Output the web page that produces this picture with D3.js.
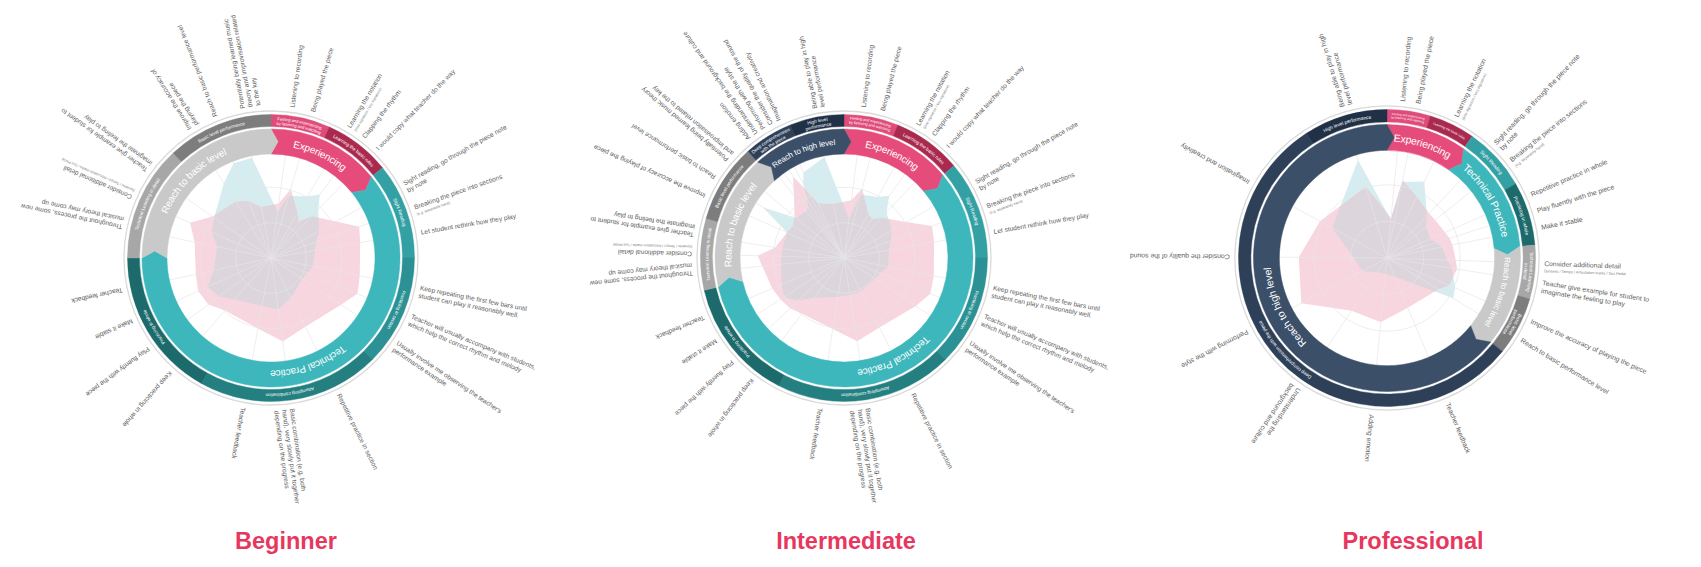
<!DOCTYPE html>
<html><head><meta charset="utf-8">
<script src="https://cdn.jsdelivr.net/npm/d3@7"></script>
<style>
body{margin:0;background:#fff;}
svg{display:block;font-family:"Liberation Sans", Arial, Helvetica, sans-serif;}
</style></head><body>
<svg id="chart" width="1701" height="567"></svg>
<script>
// ---------------- DATA ----------------
const levelTitles = ["Beginner", "Intermediate", "Professional"];

// Beginner
const beginnerCategories = ["Experiencing", "Technical Practice", "Reach to basic level"];
const beginnerSubcategories = ["Feeling and experiencing\nby listening and watching", "Learning the basic rules", "Sight Reading", "Practicing in section", "Attempting combination", "Practicing in whole", "Technical Learning in detail", "Basic level performance"];
const beginnerSubParent = [0, 0, 1, 1, 1, 1, 2, 2];
const beginnerSubSpans = [24, 27, 39, 45, 74, 61, 47, 43];
const beginnerItems = [
  "Listening to recording", "Being played the piece", "Learning the notation", "Clapping the rhythm",
  "I would copy what teacher do the way", "Sight reading, go through the piece note\nby note",
  "Breaking the piece into sections", "Let student rethink how they play",
  "Keep repeating the first few bars until\nstudent can play it reasonably well.",
  "Teacher will usually accompany with students,\nwhich help the correct rhythm and melody",
  "Usually involve me observing the teacher's\nperformance example", "Repetitive practice in section",
  "Basic combination (e.g. both\nhand), very slowly put it together\ndepending on the progress", "Teacher feedback",
  "Keep practicing in whole", "Play fluently with the piece", "Make it stable", "Teacher feedback",
  "Throughout the process, some new\nmusical theory may come up", "Consider additional detail",
  "Teacher give example for student to\nimaginate the feeling to play", "Improve the accuracy of\nplaying the piece",
  "Reach to basic performance level", "Potentially being learned music\ntheory and improvisation related\nto the key"];
const beginnerNotes = ["", "", "(time signature / key signature)", "", "", "", "(e.g. separately hand)", "", "", "", "", "", "", "", "", "", "", "", "", "Dynamic / Tempo / Articulation marks / Sus Pedal", "", "", "", ""];
const beginnerItemSub = [0, 0, 1, 1, 1, 2, 2, 2, 3, 3, 3, 4, 4, 4, 5, 5, 5, 5, 6, 6, 6, 7, 7, 7];
const beginnerSeriesA = [45, 62, 69, 77, 65, 53, 46, 43, 41, 38, 36, 43, 50, 47, 53, 62, 67, 56, 53, 62, 67, 85, 98, 98];
const beginnerSeriesB = [53, 69, 50, 44, 56, 72, 90, 87, 87, 90, 81, 74, 81, 69, 67, 75, 77, 74, 75, 85, 69, 64, 59, 50];

// Intermediate
const intermediateCategories = ["Experiencing", "Technical Practice", "Reach to basic level", "Reach to high level"];
const intermediateSubcategories = ["Feeling and experiencing\nby listening and watching", "Learning the basic rules", "Sight Reading", "Practicing in section", "Attempting combination", "Practicing in whole", "Technical Learning in detail", "Basic level performance", "Deep comprehension\nwith the piece", "High level\nperformance"];
const intermediateSubParent = [0, 0, 1, 1, 1, 1, 2, 2, 3, 3];
const intermediateSubSpans = [22, 28, 40, 45, 72, 50, 29, 32, 20, 22];
const intermediateItems = [
  "Listening to recording", "Being played the piece", "Learning the notation", "Clapping the rhythm",
  "I would copy what teacher do the way", "Sight reading, go through the piece note\nby note",
  "Breaking the piece into sections", "Let student rethink how they play",
  "Keep repeating the first few bars until\nstudent can play it reasonably well.",
  "Teacher will usually accompany with students,\nwhich help the correct rhythm and melody",
  "Usually involve me observing the teacher's\nperformance example", "Repetitive practice in section",
  "Basic combination (e.g. both\nhand), very slowly put it together\ndepending on the progress", "Teacher feedback",
  "Keep practicing in whole", "Play fluently with the piece", "Make it stable", "Teacher feedback",
  "Throughout the process, some new\nmusical theory may come up", "Consider additional detail",
  "Teacher give example for student to\nimaginate the feeling to play", "Improve the accuracy of playing the piece",
  "Reach to basic performance level", "Potentially being learned music theory\nand improvisation related to the key",
  "Adding emotion", "Understanding the background and culture", "Performing with the style",
  "Consider the quality of the sound", "Imagination and creativity", "Being able to play in high\nlevel performance"];
const intermediateNotes = ["", "", "(time signature / key signature)", "", "", "", "(e.g. separately hand)", "", "", "", "", "", "", "", "", "", "", "", "", "Dynamic / Tempo / Articulation marks / Sus Pedal", "", "", "", "", "", "", "", "", "", ""];
const intermediateItemSub = [0, 0, 1, 1, 1, 2, 2, 2, 3, 3, 3, 4, 4, 4, 5, 5, 5, 5, 6, 6, 6, 7, 7, 7, 8, 8, 8, 8, 8, 9];
const intermediateSeriesA = [38, 63, 67, 74, 60, 53, 48, 44, 43, 38, 36, 36, 36, 38, 48, 60, 69, 65, 61, 60, 60, 60, 92, 60, 58, 60, 67, 82, 91, 99];
const intermediateSeriesB = [56, 69, 48, 46, 53, 69, 90, 88, 88, 90, 83, 75, 81, 69, 67, 71, 73, 75, 79, 83, 67, 60, 58, 62, 77, 84, 92, 72, 58, 53];

// Professional
const professionalCategories = ["Experiencing", "Technical Practice", "Reach to basic level", "Reach to high level"];
const professionalSubcategories = ["Feeling and experiencing\nby listening and watching", "Learning the basic rules", "Sight Reading", "Practicing in whole", "Technical Learning\nin detail", "Basic level\nperformance", "Deep comprehension with the piece", "High level performance"];
const professionalSubParent = [0, 0, 1, 1, 2, 2, 3, 3];
const professionalSubSpans = [17, 18, 25, 25, 21, 23, 198, 33];
const professionalItems = [
  "Listening to recording", "Being played the piece", "Learning the notation",
  "Sight reading, go through the piece note\nby note", "Breaking the piece into sections",
  "Repetitive practice in whole", "Play fluently with the piece", "Make it stable",
  "Consider additional detail", "Teacher give example for student to\nimaginate the feeling to play",
  "Improve the accuracy of playing the piece", "Reach to basic performance level",
  "Teacher feedback", "Adding emotion", "Understanding the\nbackground and culture", "Performing with the style",
  "Consider the quality of the sound", "Imagination and creativity", "Being able to play in high\nlevel performance"];
const professionalNotes = ["", "", "(time signature / key signature)", "", "(e.g. separately hand)", "", "", "", "Dynamic / Tempo / Articulation marks / Sus Pedal", "", "", "", "", "", "", "", "", "", ""];
const professionalItemSub = [0, 0, 1, 2, 2, 3, 3, 3, 4, 4, 5, 5, 6, 6, 6, 6, 6, 6, 7];
const professionalSeriesA = [36, 72, 79, 54, 46, 44, 48, 52, 56, 61, 69, 72, 19, 15, 16, 26, 31, 58, 95];
const professionalSeriesB = [37, 74, 63, 57, 57, 59, 61, 62, 64, 66, 63, 56, 50, 60, 59, 90, 82, 71, 69];

// ---------------- STYLE / LAYOUT ----------------
const categoryColors = {
  "Experiencing": "#e64c7b", "Technical Practice": "#3db7bb",
  "Reach to basic level": "#c9c9c9", "Reach to high level": "#3b4f69"
};
const subColors = {
  "Feeling and experiencing by listening and watching": "#df4b7a",
  "Learning the basic rules": "#a9294f",
  "Sight Reading": "#33a0a3",
  "Practicing in section": "#2c9194",
  "Attempting combination": "#247f80",
  "Practicing in whole": "#1c6a6b",
  "Technical Learning in detail": "#a7a7a7",
  "Basic level performance": "#7d7d7d",
  "Deep comprehension with the piece": "#2d4058",
  "High level performance": "#203047"
};
const layouts = [
  {cx: 271, cy: 258, k: 1, titleX: 286},
  {cx: 844, cy: 258, k: 1, titleX: 846},
  {cx: 1387, cy: 258, k: 1.035, titleX: 1413}
];
const configs = [
  {categories: beginnerCategories, subcategories: beginnerSubcategories, subParent: beginnerSubParent, subSpans: beginnerSubSpans,
   items: beginnerItems, notes: beginnerNotes, itemSub: beginnerItemSub, seriesA: beginnerSeriesA, seriesB: beginnerSeriesB},
  {categories: intermediateCategories, subcategories: intermediateSubcategories, subParent: intermediateSubParent, subSpans: intermediateSubSpans,
   items: intermediateItems, notes: intermediateNotes, itemSub: intermediateItemSub, seriesA: intermediateSeriesA, seriesB: intermediateSeriesB},
  {categories: professionalCategories, subcategories: professionalSubcategories, subParent: professionalSubParent, subSpans: professionalSubSpans,
   items: professionalItems, notes: professionalNotes, itemSub: professionalItemSub, seriesA: professionalSeriesA, seriesB: professionalSeriesB}
];

const svg = d3.select("#chart");
const defs = svg.append("defs");
const HALF = Math.PI / 2;

function arcTextPath(mid, r) {
  const a0 = mid - Math.PI + 0.01, a1 = mid + Math.PI - 0.01;
  const p = d3.path();
  const s = d3.pointRadial(a0, r);
  p.moveTo(s[0], s[1]);
  p.arc(0, 0, r, a0 - HALF, a1 - HALF, false);
  return p.toString();
}

function chevronPath(a0, a1, r0, r1, tipPx) {
  const rm = (r0 + r1) / 2, tip = tipPx / rm;
  const p = d3.path();
  const s = d3.pointRadial(a0, r1);
  p.moveTo(s[0], s[1]);
  p.arc(0, 0, r1, a0 - HALF, a1 - HALF, false);
  const t = d3.pointRadial(a1 + tip, rm); p.lineTo(t[0], t[1]);
  const q = d3.pointRadial(a1, r0); p.lineTo(q[0], q[1]);
  p.arc(0, 0, r0, a1 - HALF, a0 - HALF, true);
  const n = d3.pointRadial(a0 + tip, rm); p.lineTo(n[0], n[1]);
  p.closePath();
  return p.toString();
}

function arcLabel(g, id, text, mid, rMid, span, baseSize, lineH, color) {
  const lines = text.split("\n");
  const maxChars = d3.max(lines, l => l.length);
  const arcLen = span * rMid;
  const fs = Math.min(baseSize, arcLen * 0.92 / (maxChars * 0.52));
  const lh = Math.min(lineH, fs * 1.15);
  lines.forEach((ln, j) => {
    const r = rMid + ((lines.length - 1) / 2 - j) * lh;
    const pid = id + "_" + j;
    defs.append("path").attr("id", pid).attr("d", arcTextPath(mid, r));
    g.append("text").attr("font-size", fs).attr("fill", color).attr("dominant-baseline", "central")
      .append("textPath").attr("href", "#" + pid).attr("startOffset", "50%").attr("text-anchor", "middle").text(ln);
  });
}

function drawChart(cfg, lay, idx) {
  const k = lay.k;
  const R = {radar: 104 * k, in0: 104 * k, in1: 129 * k, out0: 131.5 * k, out1: 143.5 * k, outline: 147 * k, label: 152 * k};
  const g = svg.append("g").attr("transform", `translate(${lay.cx},${lay.cy})`);

  const subArcs = d3.pie().value(d => d).sort(null)(cfg.subSpans);
  const catArcs = cfg.categories.map((c, ci) => {
    const subs = subArcs.filter((a, si) => cfg.subParent[si] === ci);
    return {name: c, startAngle: d3.min(subs, a => a.startAngle), endAngle: d3.max(subs, a => a.endAngle)};
  });
  const itemAngle = cfg.items.map((_, i) => {
    const s = cfg.itemSub[i];
    const members = d3.range(cfg.items.length).filter(j => cfg.itemSub[j] === s);
    const pos = d3.scalePoint().domain(members).range([subArcs[s].startAngle, subArcs[s].endAngle]).padding(1);
    return pos(i);
  });
  const rScale = d3.scaleLinear().domain([0, 100]).range([0, R.radar]);

  // outline circle
  g.append("circle").attr("r", R.outline).attr("fill", "none").attr("stroke", "#dadada").attr("stroke-width", 1.3);

  // radar polygons
  const line = d3.lineRadial().curve(d3.curveLinearClosed);
  const ptsA = cfg.seriesA.map((v, i) => [itemAngle[i], rScale(v)]);
  const ptsB = cfg.seriesB.map((v, i) => [itemAngle[i], rScale(v)]);
  const clipId = "clipA" + idx;
  g.append("clipPath").attr("id", clipId).append("path").attr("d", line(ptsA));
  g.append("path").attr("d", line(ptsA)).attr("fill", "#d5edf0");
  g.append("path").attr("d", line(ptsB)).attr("fill", "#f8d6e0");
  g.append("path").attr("d", line(ptsB)).attr("fill", "#dcd5dc").attr("clip-path", `url(#${clipId})`);

  // grid on top
  const grid = g.append("g").attr("stroke", "#e6e6e6").attr("stroke-opacity", 0.75).attr("fill", "none").attr("stroke-width", 0.9);
  [0.34, 0.68].forEach(f => grid.append("circle").attr("r", R.radar * f));
  itemAngle.forEach(a => {
    const p = d3.pointRadial(a, R.radar);
    grid.append("line").attr("x1", 0).attr("y1", 0).attr("x2", p[0]).attr("y2", p[1]);
  });

  // outer ring (subcategories)
  const outerArc = d3.arc().innerRadius(R.out0).outerRadius(R.out1);
  subArcs.forEach((a, si) => {
    const key = cfg.subcategories[si].replace(/\n/g, " ");
    g.append("path").attr("d", outerArc(a)).attr("fill", subColors[key]).attr("stroke", subColors[key]).attr("stroke-width", 0.4);
  });
  subArcs.forEach((a, si) => {
    const mid = (a.startAngle + a.endAngle) / 2;
    arcLabel(g, `ol${idx}_${si}`, cfg.subcategories[si], mid, (R.out0 + R.out1) / 2, a.endAngle - a.startAngle, 4.7 * k, 5.2 * k, "#ffffff");
  });

  // inner ring (categories) with chevrons
  catArcs.forEach(c => {
    g.append("path").attr("d", chevronPath(c.startAngle, c.endAngle, R.in0, R.in1, 7 * k))
      .attr("fill", categoryColors[c.name]).attr("stroke", categoryColors[c.name]).attr("stroke-width", 0.5);
  });
  catArcs.forEach((c, ci) => {
    const mid = (c.startAngle + c.endAngle) / 2;
    arcLabel(g, `il${idx}_${ci}`, c.name, mid, (R.in0 + R.in1) / 2, c.endAngle - c.startAngle, 10 * k, 11 * k, "#ffffff");
  });

  // radial item labels
  const fs = 6.6 * k;
  const labG = g.append("g").attr("fill", "#606060").attr("font-size", fs);
  cfg.items.forEach((txt, i) => {
    const deg = itemAngle[i] * 180 / Math.PI;
    const t = labG.append("text").attr("transform", `rotate(${deg - 90}) translate(${R.label},0)`);
    txt.split("\n").forEach((ln, j) => {
      t.append("tspan").attr("x", 0).attr("dy", j === 0 ? fs * 0.35 : fs * 1.2).text(ln);
    });
    if (cfg.notes[i]) {
      t.append("tspan").attr("x", 0).attr("dy", fs * 0.95).attr("font-size", fs * 0.55).attr("fill", "#7a7a7a").text(cfg.notes[i]);
    }
  });

  // title
  svg.append("text").attr("x", lay.titleX).attr("y", 549).attr("text-anchor", "middle")
    .attr("font-size", 23.5).attr("font-weight", 700).attr("fill", "#e8375e").text(levelTitles[idx]);
}

configs.forEach((cfg, i) => drawChart(cfg, layouts[i], i));
</script>
</body></html>
